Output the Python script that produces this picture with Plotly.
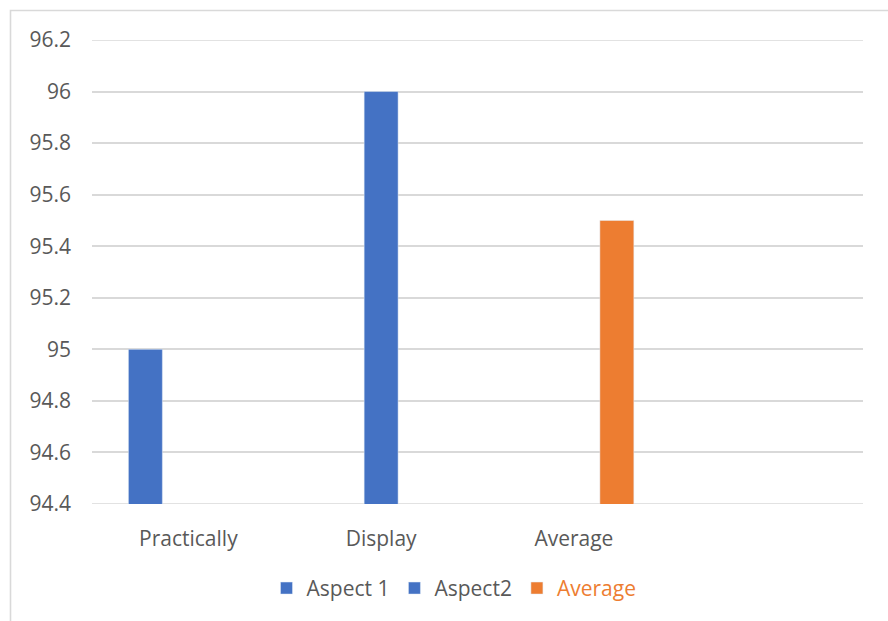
import plotly.graph_objects as go

categories = ["Practically", "Display", "Average", " "]
aspect1 = [95.0, None, None, None]
aspect2 = [None, 96.0, None, None]
average = [None, None, 95.5, None]
y_ticks = [94.4, 94.6, 94.8, 95.0, 95.2, 95.4, 95.6, 95.8, 96.0, 96.2]
y_tick_labels = ["94.4", "94.6", "94.8", "95", "95.2", "95.4", "95.6", "95.8", "96", "96.2"]

BLUE = "#4472C4"
ORANGE = "#ED7D31"
GRAY_TXT = "#595959"
GRID = "#D9D9D9"

fig = go.Figure()
fig.add_trace(go.Bar(x=categories, y=aspect1, name="Aspect 1", marker_color=BLUE))
fig.add_trace(go.Bar(x=categories, y=aspect2, name="Aspect2", marker_color=BLUE))
fig.add_trace(go.Bar(x=categories, y=average,
                     name="<span style='color:#ED7D31'>Average</span>",
                     marker_color=ORANGE))

L, R, T, B = 92, 25, 40, 116.5
W, H = 888, 621
pw = W - L - R
ph = H - T - B

edge_lines = [dict(type="line", xref="paper", yref="y", x0=0, x1=1,
                   y0=v, y1=v, line=dict(color=GRID, width=1.6), layer="below")
              for v in (y_ticks[0], y_ticks[-1])]

fig.update_layout(
    width=W, height=H,
    margin=dict(l=L, r=R, t=T, b=B, pad=0),
    paper_bgcolor="white", plot_bgcolor="white",
    barmode="group", bargap=0.331, bargroupgap=0.21,
    font=dict(family="Open Sans", size=21, color=GRAY_TXT),
    showlegend=True,
    legend=dict(orientation="h", x=(454 - L) / pw, xanchor="center",
                y=(H - B - 589) / ph, yanchor="middle",
                font=dict(size=21, color=GRAY_TXT), itemwidth=30,
                traceorder="normal"),
    xaxis=dict(type="category", range=[-0.5, 3.5], showgrid=False,
               showline=False, zeroline=False, ticks="",
               ticklabelstandoff=20, tickfont=dict(size=21, color=GRAY_TXT)),
    yaxis=dict(range=[y_ticks[0], y_ticks[-1]], tickvals=y_ticks, ticktext=y_tick_labels,
               showgrid=True, gridcolor=GRID, gridwidth=1.6,
               zeroline=False, showline=False, ticks="",
               ticklabelstandoff=20, tickfont=dict(size=21, color=GRAY_TXT)),
    shapes=[dict(type="rect", xref="paper", yref="paper",
                 x0=(10.5 - L) / pw, x1=(W + 5 - L) / pw,
                 y0=(H - B - (H + 5)) / ph, y1=(H - B - 10.5) / ph,
                 line=dict(color=GRID, width=1.6), fillcolor="rgba(0,0,0,0)",
                 layer="below")] + edge_lines,
)

fig.write_html("out.html")
